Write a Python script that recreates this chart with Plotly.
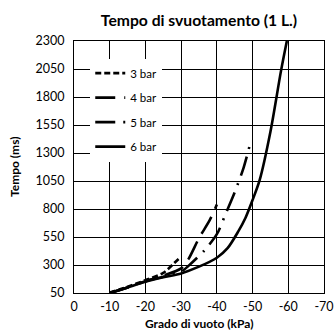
import plotly.graph_objects as go

# Vacuum level (kPa) and emptying time (ms) for each supply pressure
x_3bar = [-10, -15, -20, -25, -28, -29.5]
t_3bar = [55, 105, 165, 230, 315, 360]

x_4bar = [-10, -15, -20, -25, -30, -32, -35, -38, -40]
t_4bar = [50, 100, 155, 205, 270, 350, 540, 700, 840]

x_5bar = [-10, -15, -20, -25, -30, -33, -36.5, -40, -42.5, -45, -47.5, -49.3]
t_5bar = [50, 100, 155, 195, 240, 320, 430, 575, 760, 950, 1170, 1380]

x_6bar = [-10, -15, -20, -25, -30, -35, -40, -43, -46, -48, -50, -52, -55, -58, -59.6]
t_6bar = [50, 100, 150, 190, 225, 285, 365, 450, 600, 720, 880, 1060, 1490, 2040, 2300]

series_names = ["3 bar", "4 bar", "5 bar", "6 bar"]
series_dash = ["6px,3px", "20px,9px", "20px,8px,2px,8px", "solid"]

x_ticks = [0, -10, -20, -30, -40, -50, -60, -70]
x_tick_labels = ["0", "-10", "-20", "-30", "-40", "-50", "-60", "-70"]
y_ticks = [50, 300, 550, 800, 1050, 1300, 1550, 1800, 2050, 2300]

FONT = "Lato"
GRID = "black"

fig = go.Figure()
for i, (xs, ts) in enumerate([(x_3bar, t_3bar), (x_4bar, t_4bar),
                              (x_5bar, t_5bar), (x_6bar, t_6bar)]):
    fig.add_trace(go.Scatter(
        x=xs, y=ts, mode="lines", name=series_names[i],
        legendgroup=series_names[i],
        line=dict(color="black", width=2.6, dash=series_dash[i],
                  shape="spline", smoothing=0.8),
    ))

axis_common = dict(
    showline=True, linecolor="black", linewidth=1, mirror=True,
    showgrid=True, gridcolor=GRID, gridwidth=1,
    zeroline=False, ticks="", automargin=False,
    tickfont=dict(family=FONT, size=12.5, color="black"),
)

fig.update_layout(
    template="none",
    width=334, height=333,
    margin=dict(l=74, r=10, t=41, b=40, autoexpand=False),
    paper_bgcolor="white", plot_bgcolor="white",
    font=dict(family=FONT, color="black"),
    title=dict(text="<b>Tempo di svuotamento (1 L.)</b>", x=0.5, xref="paper",
               y=0.937, yref="container", yanchor="middle",
               font=dict(family=FONT, size=15.7, color="black")),
    xaxis=dict(range=[0, -70], tickvals=x_ticks, ticktext=x_tick_labels,
               ticklabelstandoff=2, **axis_common),
    yaxis=dict(range=[50, 2300], tickvals=y_ticks, ticklabelstandoff=6,
               **axis_common),
    legend=dict(x=0.065, y=0.93, xanchor="left", yanchor="top",
                bgcolor="white", borderwidth=0, tracegroupgap=5.5,
                font=dict(family=FONT, size=11.5, color="black"),
                itemwidth=30),
    showlegend=True,
    annotations=[
        dict(text="<b>Grado di vuoto (kPa)</b>", xref="paper", yref="paper",
             x=0.5, y=-0.12, xanchor="center", yanchor="middle", showarrow=False,
             font=dict(family=FONT, size=12, color="black")),
        dict(text="<b>Tempo (ms)</b>", xref="paper", yref="paper",
             x=-0.24, y=0.5, xanchor="center", yanchor="middle", showarrow=False,
             textangle=-90, font=dict(family=FONT, size=12, color="black")),
    ],
)

fig.write_html("out.html")
